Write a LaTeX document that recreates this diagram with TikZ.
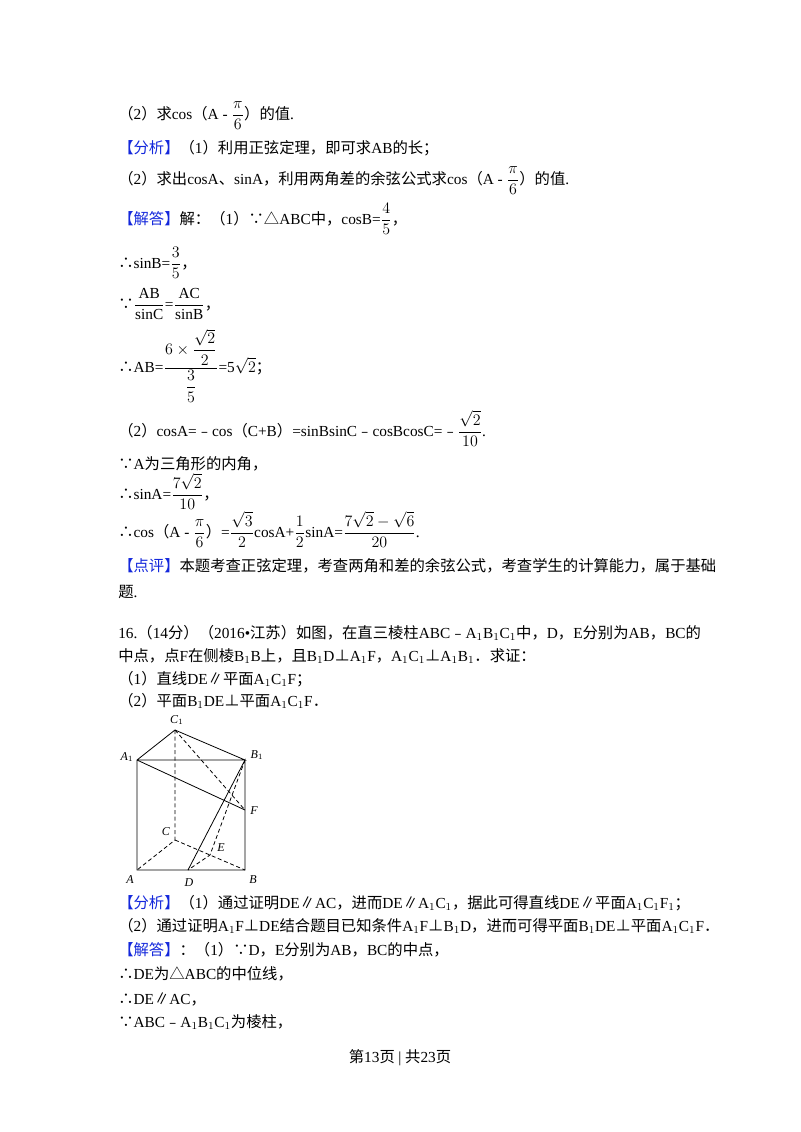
\documentclass[tikz,border=0pt]{standalone}
\usepackage{fontspec}
\usepackage{amsmath}
\setmainfont{Liberation Serif}
\newfontfamily\latinf{Liberation Serif}
\newfontfamily\cjk{Noto Sans CJK SC}
\newXeTeXintercharclass\CJKcls
\newcount\cc
\def\setrange#1#2{\cc=#1\relax\loop\XeTeXcharclass\cc=\CJKcls\ifnum\cc<#2\advance\cc 1\repeat}
\setrange{"4E00}{"9FFF}
\setrange{"3000}{"303F}
\setrange{"FF00}{"FFEF}
\setrange{"FE30}{"FE6F}
\XeTeXcharclass"2225=\CJKcls
\XeTeXcharclass"22A5=\CJKcls
\XeTeXcharclass"2234=\CJKcls
\XeTeXcharclass"2235=\CJKcls
\XeTeXcharclass"25B3=\CJKcls
\XeTeXinterchartoks 0 \CJKcls={\cjk}
\XeTeXinterchartoks 4095 \CJKcls={\cjk}
\XeTeXinterchartoks \CJKcls 0={\latinf}
\XeTeXinterchartoks 4095 0={\latinf}
\XeTeXinterchartokenstate=1
\definecolor{tagblue}{RGB}{20,40,220}
\newcommand{\tg}[1]{{\color{tagblue}#1}}
\begin{document}
\begin{tikzpicture}[x=0.75pt,y=-0.75pt,
  tx/.style={anchor=base west,inner sep=0pt,font=\fontsize{11.5}{13}\selectfont},
  lb/.style={inner sep=0pt,font=\fontsize{9}{10}\selectfont\itshape},
  ed/.style={line width=0.6pt},
  hd/.style={line width=0.6pt,dash pattern=on 3pt off 2pt}]
\useasboundingbox (0,0) rectangle (800,1132);
\fill[white] (0,0) rectangle (800,1132);
\node[tx] (l1) at (118,119) {（2）求cos（A - $\dfrac{\pi}{6}$）的值.};
\node[tx] (l2) at (118,153) {\tg{【分析】}（1）利用正弦定理，即可求AB的长；};
\node[tx] (l3) at (118,184) {（2）求出cosA、sinA，利用两角差的余弦公式求cos（A - $\dfrac{\pi}{6}$）的值.};
\node[tx] (l4) at (118,224) {\tg{【解答】}解：（1）∵△ABC中，cosB=$\dfrac{4}{5}$，};
\node[tx] (l5) at (118,268) {∴sinB=$\dfrac{3}{5}$，};
\node[tx] (l6) at (118,309) {∵$\dfrac{\text{AB}}{\text{sinC}}$=$\dfrac{\text{AC}}{\text{sinB}}$，};
\node[tx] (l7) at (118,372) {∴AB=$\dfrac{6\times\dfrac{\sqrt{2}}{2}}{\dfrac{3}{5}}$=5$\sqrt{2}$；};
\node[tx] (l8) at (118,436) {（2）cosA=﹣cos（C+B）=sinBsinC﹣cosBcosC=﹣$\dfrac{\sqrt{2}}{10}$.};
\node[tx] (l9) at (118,469) {∵A为三角形的内角，};
\node[tx] (l10) at (118,499) {∴sinA=$\dfrac{7\sqrt{2}}{10}$，};
\node[tx] (l11) at (118,537) {∴cos（A - $\dfrac{\pi}{6}$）=$\dfrac{\sqrt{3}}{2}$cosA+$\dfrac{1}{2}$sinA=$\dfrac{7\sqrt{2}-\sqrt{6}}{20}$.};
\node[tx] (l12) at (118,571) {\tg{【点评】}本题考查正弦定理，考查两角和差的余弦公式，考查学生的计算能力，属于基础};
\node[tx] (l13) at (118,597) {题.};
\node[tx] (l14) at (118,638) {16.（14分）（2016•江苏）如图，在直三棱柱ABC﹣A$_1$B$_1$C$_1$中，D，E分别为AB，BC的};
\node[tx] (l15) at (118,661) {中点，点F在侧棱B$_1$B上，且B$_1$D⊥A$_1$F，A$_1$C$_1$⊥A$_1$B$_1$．求证：};
\node[tx] (l16) at (118,684) {（1）直线DE∥平面A$_1$C$_1$F；};
\node[tx] (l17) at (118,706) {（2）平面B$_1$DE⊥平面A$_1$C$_1$F．};
% figure
\coordinate (A1) at (137,760); \coordinate (B1) at (245,760); \coordinate (C1) at (175,730);
\coordinate (A) at (137,870); \coordinate (B) at (245,870); \coordinate (C) at (175,840);
\coordinate (D) at (188,870); \coordinate (E) at (210,855); \coordinate (F) at (245,810);
\draw[ed] (A1) -- (C1) -- (B1) -- (A1) -- (A) -- (B) -- (B1) -- (D);
\draw[ed] (A1) -- (F);
\draw[hd] (C1) -- (C) -- (A); \draw[hd] (C) -- (B); \draw[hd] (C1) -- (F);
\draw[hd] (B1) -- (E) -- (D);
\node[lb] (nC1) at (177,720) {C$_1$};
\node[lb] (nA1) at (127,757) {A$_1$};
\node[lb] (nB1) at (257,755) {B$_1$};
\node[lb] (nF) at (254,811) {F};
\node[lb] (nC) at (166,832) {C};
\node[lb] (nE) at (221,848) {E};
\node[lb] (nA) at (130,880) {A};
\node[lb] (nD) at (189,883) {D};
\node[lb] (nB) at (253,880) {B};
\node[tx] (l18) at (118,908) {\tg{【分析】}（1）通过证明DE∥AC，进而DE∥A$_1$C$_1$，据此可得直线DE∥平面A$_1$C$_1$F$_1$；};
\node[tx] (l19) at (118,931) {（2）通过证明A$_1$F⊥DE结合题目已知条件A$_1$F⊥B$_1$D，进而可得平面B$_1$DE⊥平面A$_1$C$_1$F．};
\node[tx] (l20) at (118,955) {\tg{【解答】}：（1）∵D，E分别为AB，BC的中点，};
\node[tx] (l21) at (118,979) {∴DE为△ABC的中位线，};
\node[tx] (l22) at (118,1004) {∴DE∥AC，};
\node[tx] (l23) at (118,1027) {∵ABC﹣A$_1$B$_1$C$_1$为棱柱，};
\node[tx,anchor=base] (ft) at (400,1062) {第13页 | 共23页};
\end{tikzpicture}
\end{document}
